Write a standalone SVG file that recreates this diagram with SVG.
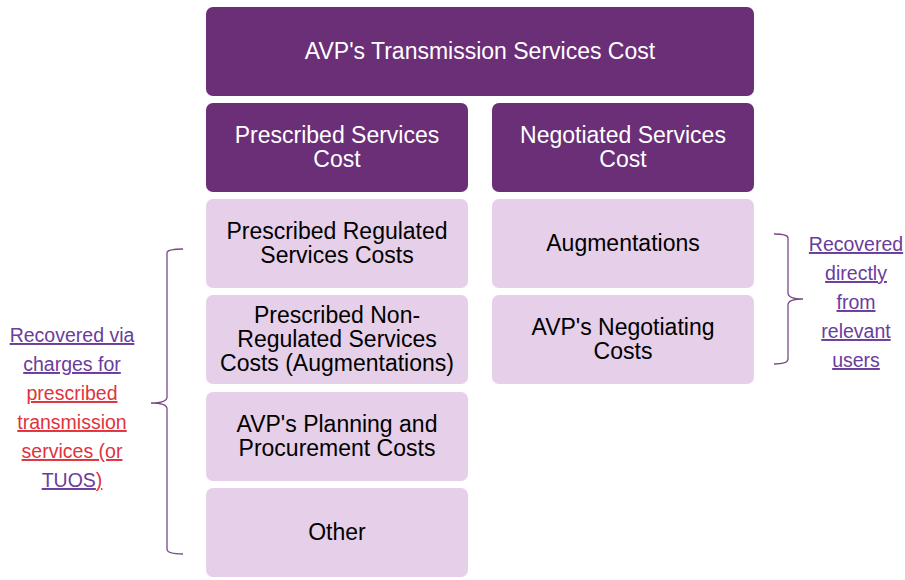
<svg xmlns="http://www.w3.org/2000/svg" width="905" height="580" viewBox="0 0 905 580">
<style>
.dk{fill:#6B2F78}
.lt{fill:#E6CFE9}
.tw{font-family:"Liberation Sans",Arial,sans-serif;font-size:23px;fill:#fff;text-anchor:middle}
.tb{font-family:"Liberation Sans",Arial,sans-serif;font-size:23px;fill:#000;text-anchor:middle}
.note{font-family:"Liberation Sans",Arial,sans-serif;font-size:19.5px;text-anchor:middle}
.u{text-decoration:underline}
.p{fill:#6A3C9C}
.r{fill:#E0333C}
.br{fill:none;stroke:#7A4A86;stroke-width:1.3}
</style>
<rect width="905" height="580" fill="#fff"/>
<g id="top"><rect class="dk" x="206" y="7" width="548" height="89" rx="7"/><text class="tw" x="480" y="59">AVP's Transmission Services Cost</text></g>
<g id="prescribed"><rect class="dk" x="206" y="103" width="262" height="89" rx="7"/><text class="tw" x="337" y="143">Prescribed Services</text><text class="tw" x="337" y="167">Cost</text></g>
<g id="negotiated"><rect class="dk" x="492" y="103" width="262" height="89" rx="7"/><text class="tw" x="623" y="143">Negotiated Services</text><text class="tw" x="623" y="167">Cost</text></g>
<g id="prc"><rect class="lt" x="206" y="199" width="262" height="89" rx="7"/><text class="tb" x="337" y="239">Prescribed Regulated</text><text class="tb" x="337" y="263">Services Costs</text></g>
<g id="pnrc"><rect class="lt" x="206" y="295" width="262" height="89" rx="7"/><text class="tb" x="337" y="323">Prescribed Non-</text><text class="tb" x="337" y="347">Regulated Services</text><text class="tb" x="337" y="371">Costs (Augmentations)</text></g>
<g id="ppc"><rect class="lt" x="206" y="392" width="262" height="89" rx="7"/><text class="tb" x="337" y="432">AVP's Planning and</text><text class="tb" x="337" y="456">Procurement Costs</text></g>
<g id="other"><rect class="lt" x="206" y="488" width="262" height="89" rx="7"/><text class="tb" x="337" y="540">Other</text></g>
<g id="aug"><rect class="lt" x="492" y="199" width="262" height="89" rx="7"/><text class="tb" x="623" y="251">Augmentations</text></g>
<g id="anc"><rect class="lt" x="492" y="295" width="262" height="89" rx="7"/><text class="tb" x="623" y="335">AVP's Negotiating</text><text class="tb" x="623" y="359">Costs</text></g>
<g id="connectors">
<path class="br" d="M183,249 Q167,249 167,253 L167,397 Q167,403 151,403 Q167,403 167,409 L167,549 Q167,554 183,554"/>
<path class="br" d="M774,234 Q788,234 788,238 L788,293 Q788,299 803,299 Q788,299 788,305 L788,359 Q788,364 774,364"/>
</g>
<g id="note-left">
<text class="note u p" x="72" y="342">Recovered via</text>
<text class="note u p" x="72" y="371">charges for</text>
<text class="note u r" x="72" y="400">prescribed</text>
<text class="note u r" x="72" y="429">transmission</text>
<text class="note u r" x="72" y="458">services (or</text>
<text class="note" x="72" y="487"><tspan class="u p">TUOS</tspan><tspan class="u r">)</tspan></text>
</g>
<g id="note-right">
<text class="note u p" x="856" y="251">Recovered</text>
<text class="note u p" x="856" y="280">directly</text>
<text class="note u p" x="856" y="309">from</text>
<text class="note u p" x="856" y="338">relevant</text>
<text class="note u p" x="856" y="367">users</text>
</g>
</svg>
